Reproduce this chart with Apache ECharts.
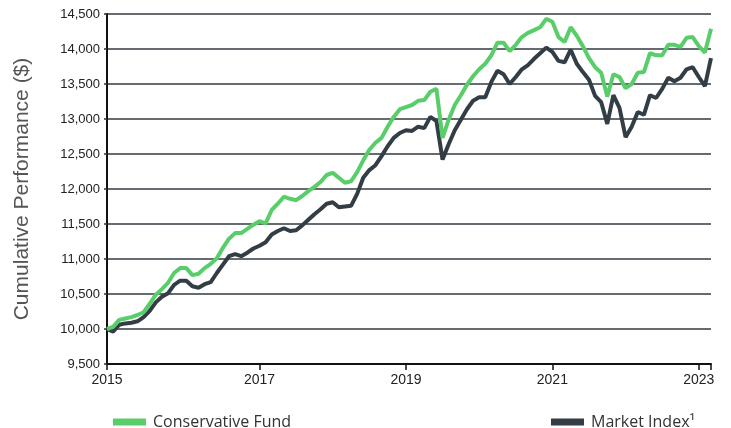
<!DOCTYPE html>
<html>
<head>
<meta charset="utf-8">
<script src="https://cdn.jsdelivr.net/npm/echarts@6/dist/echarts.min.js"></script>
<style>
  html, body { margin: 0; padding: 0; background: #fff; }
  #chart { width: 731px; height: 428px; }
</style>
</head>
<body>
<div id="chart"></div>
<script>
// monthly values, Dec 2014 .. Mar 2023
var fund = [
  10000, 10030, 10130, 10150, 10170, 10200, 10240, 10360, 10490, 10570,
  10660, 10800, 10870, 10870, 10770, 10790, 10870, 10930, 11010, 11160,
  11290, 11370, 11370, 11430, 11490, 11540, 11510, 11700, 11790, 11890,
  11860, 11840, 11900, 11970, 12030, 12100, 12200, 12230, 12160, 12090,
  12110, 12240, 12410, 12560, 12660, 12730, 12890, 13030, 13140, 13170,
  13200, 13260, 13270, 13390, 13430, 12730, 12990, 13200, 13340, 13490,
  13610, 13710, 13790, 13910, 14090, 14090, 13970, 14060, 14170, 14230,
  14270, 14310, 14430, 14390, 14170, 14100, 14310, 14190, 14040, 13870,
  13740, 13660, 13320, 13640, 13600, 13440, 13500, 13660, 13670, 13940,
  13910, 13910, 14060, 14060, 14030, 14160, 14170, 14040, 13950, 14290
];
var market = [
  10000, 9960, 10060, 10080, 10090, 10110, 10170, 10260, 10380, 10460,
  10510, 10630, 10690, 10690, 10610, 10590, 10640, 10670, 10800, 10920,
  11040, 11070, 11040, 11090, 11150, 11190, 11240, 11350, 11400, 11440,
  11400, 11410, 11480, 11560, 11640, 11710, 11790, 11810, 11740, 11750,
  11760, 11930, 12160, 12270, 12340, 12470, 12610, 12730, 12800, 12840,
  12830, 12890, 12870, 13030, 12970, 12420, 12640, 12840, 12990, 13140,
  13260, 13310, 13310, 13530, 13690, 13640, 13500, 13600, 13710, 13770,
  13860, 13940, 14020, 13960, 13830, 13810, 13990, 13790, 13670, 13560,
  13330, 13240, 12930, 13340, 13160, 12740, 12890, 13100, 13060, 13340,
  13300, 13430, 13590, 13540, 13590, 13710, 13740, 13600, 13470, 13870
];
var yearLabels = ['2015', '2017', '2019', '2021', '2023'];
var labelIdx = [0, 25, 49, 73, 97];
var tickIdx = [0, 25, 49, 73, 97, 99];

var months = [];
for (var i = 0; i < fund.length; i++) {
    var m = (11 + i) % 12, y = 2014 + Math.floor((11 + i) / 12);
    months.push(y + '-' + (m + 1 < 10 ? '0' : '') + (m + 1));
}

var legendText = { fontFamily: 'Open Sans', fontSize: 16, color: '#333', padding: [0, 0, 0, 2] };

var option = {
    animation: false,
    grid: { left: 107, right: 20, top: 14, bottom: 64 },
    legend: [
        {
            left: 108, top: 409,
            icon: 'rect', itemWidth: 33, itemHeight: 7,
            textStyle: legendText,
            data: ['Conservative Fund']
        },
        {
            left: 546, top: 409,
            icon: 'rect', itemWidth: 33, itemHeight: 7,
            textStyle: legendText,
            data: ['Market Index¹']
        }
    ],
    xAxis: {
        type: 'category',
        boundaryGap: false,
        data: months,
        axisLine: { lineStyle: { color: '#111', width: 2 } },
        axisTick: {
            length: 6,
            lineStyle: { color: '#111', width: 1.5 },
            interval: function (i) { return tickIdx.indexOf(i) >= 0; }
        },
        axisLabel: {
            margin: 9,
            fontFamily: 'Liberation Sans', fontSize: 14, color: '#222',
            interval: function (i) { return labelIdx.indexOf(i) >= 0; },
            formatter: function (v, i) { return yearLabels[labelIdx.indexOf(i)]; }
        },
        splitLine: { show: false }
    },
    yAxis: {
        type: 'value',
        min: 9500, max: 14500, interval: 500,
        name: 'Cumulative Performance ($)',
        nameLocation: 'middle',
        nameGap: 74,
        nameTextStyle: { fontFamily: 'Liberation Sans', fontSize: 21, color: '#555' },
        axisLine: { show: true, lineStyle: { color: '#111', width: 2 } },
        axisTick: { show: true, length: 3, lineStyle: { color: '#333', width: 1.5 } },
        axisLabel: {
            margin: 7,
            fontFamily: 'Liberation Sans', fontSize: 13, color: '#222',
            formatter: function (v) { return v.toLocaleString('en-US'); }
        },
        splitLine: { lineStyle: { color: '#323a40', width: 1.5 } }
    },
    series: [
        {
            name: 'Market Index¹',
            type: 'line',
            data: market,
            symbol: 'none',
            lineStyle: { color: '#333d45', width: 4 },
            itemStyle: { color: '#333d45' }
        },
        {
            name: 'Conservative Fund',
            type: 'line',
            data: fund,
            symbol: 'none',
            lineStyle: { color: '#5acd6b', width: 4 },
            itemStyle: { color: '#5acd6b' }
        }
    ]
};

var myChart = echarts.init(document.getElementById('chart'));
myChart.setOption(option);
</script>
</body>
</html>
